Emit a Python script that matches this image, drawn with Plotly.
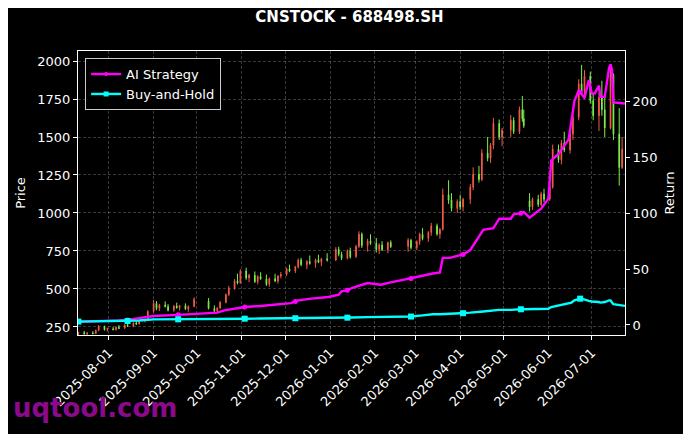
import plotly.graph_objects as go

# Daily candles (approximate), price axis on the left.
candle_dates = [
    "2025-07-11", "2025-07-15", "2025-07-17", "2025-07-21", "2025-07-23", "2025-07-25",
    "2025-07-29", "2025-07-31", "2025-08-04", "2025-08-06", "2025-08-08", "2025-08-12",
    "2025-08-14", "2025-08-18", "2025-08-20", "2025-08-22", "2025-08-26", "2025-08-28",
    "2025-09-01", "2025-09-03", "2025-09-05", "2025-09-09", "2025-09-11", "2025-09-15",
    "2025-09-17", "2025-09-19", "2025-09-23", "2025-09-25", "2025-09-29",
    "2025-10-09", "2025-10-13", "2025-10-15", "2025-10-17", "2025-10-21", "2025-10-23",
    "2025-10-27", "2025-10-29", "2025-10-31", "2025-11-04", "2025-11-06", "2025-11-10",
    "2025-11-12", "2025-11-14", "2025-11-18", "2025-11-20", "2025-11-24", "2025-11-26",
    "2025-11-28", "2025-12-02", "2025-12-04", "2025-12-08", "2025-12-10", "2025-12-12",
    "2025-12-16", "2025-12-18", "2025-12-22", "2025-12-24", "2025-12-26", "2025-12-30",
    "2026-01-05", "2026-01-07", "2026-01-09", "2026-01-13", "2026-01-15", "2026-01-19",
    "2026-01-21", "2026-01-23", "2026-01-27", "2026-01-29", "2026-02-02", "2026-02-04",
    "2026-02-06", "2026-02-10", "2026-02-12",
    "2026-02-24", "2026-02-26", "2026-03-02", "2026-03-04", "2026-03-06", "2026-03-10",
    "2026-03-12", "2026-03-16", "2026-03-18", "2026-03-20", "2026-03-24", "2026-03-26",
    "2026-03-30", "2026-04-01", "2026-04-03", "2026-04-08", "2026-04-10", "2026-04-14",
    "2026-04-16", "2026-04-20", "2026-04-22", "2026-04-24", "2026-04-28", "2026-04-30",
    "2026-05-06", "2026-05-08", "2026-05-12", "2026-05-14", "2026-05-15",
    "2026-05-19", "2026-05-21", "2026-05-25", "2026-05-27", "2026-05-29", "2026-06-02",
    "2026-06-04", "2026-06-08", "2026-06-10", "2026-06-12", "2026-06-16", "2026-06-18",
    "2026-06-22", "2026-06-24", "2026-06-26", "2026-06-30", "2026-07-02", "2026-07-06",
    "2026-07-08", "2026-07-10", "2026-07-14", "2026-07-16", "2026-07-20", "2026-07-22",
]
opens = [
    205, 212, 204, 210, 206, 228, 250, 232, 238, 232, 248, 242,
    262, 255, 276, 270, 290, 300,
    352, 405, 372, 395, 384, 360, 388, 376, 390, 368, 385,
    420, 372, 356, 374, 412, 462, 505, 552, 540, 618, 572, 590,
    548, 582, 566, 530, 568, 552, 585, 596, 632, 618, 645, 690,
    660, 680, 668, 692, 675, 698,
    690, 760, 728, 702, 750, 712, 780, 860, 785, 815, 800, 760,
    790, 758, 805,
    780, 820, 772, 810, 860, 832, 872, 915, 862, 892, 1120, 1085,
    1030, 1075, 1040, 1090, 1170, 1255, 1220, 1395, 1360, 1445, 1590, 1500,
    1545, 1610, 1535, 1680, 1620,
    1080, 1040, 1090, 1055, 1125, 1090,
    1170, 1420, 1350, 1460, 1415, 1520, 1630, 1850, 1800, 1900, 1740, 1640,
    1760, 1680, 1560, 1910, 1520, 1300,
]
highs = [
    218, 225, 215, 222, 232, 262, 258, 245, 250, 252, 262, 268,
    285, 280, 292, 296, 305, 360,
    428, 420, 402, 418, 400, 392, 410, 395, 405, 392, 445,
    440, 392, 380, 420, 470, 520, 565, 600, 630, 640, 600, 615,
    590, 610, 595, 575, 600, 590, 612, 640, 660, 652, 700, 705,
    690, 720, 700, 725, 705, 735,
    775, 778, 745, 760, 772, 790, 880, 872, 830, 860, 835, 800,
    815, 812, 820,
    835, 830, 820, 870, 900, 880, 935, 930, 900, 1160, 1215, 1130,
    1090, 1120, 1100, 1190, 1300, 1310, 1420, 1500, 1460, 1625, 1615, 1560,
    1645, 1630, 1700, 1770, 1680,
    1130, 1100, 1120, 1140, 1160, 1195,
    1450, 1450, 1480, 1535, 1540, 1650, 1880, 1975, 1940, 1930, 1790, 1790,
    1870, 1790, 1960, 1920, 1690, 1500,
]
lows = [
    196, 200, 195, 202, 203, 222, 226, 220, 228, 226, 236, 238,
    250, 248, 262, 266, 280, 296,
    345, 360, 355, 378, 352, 350, 370, 358, 362, 350, 380,
    365, 345, 348, 370, 405, 455, 495, 530, 535, 560, 545, 540,
    530, 560, 520, 515, 545, 535, 570, 585, 610, 605, 635, 650,
    630, 660, 640, 670, 650, 680,
    685, 715, 690, 695, 700, 705, 770, 770, 745, 790, 740, 730,
    750, 735, 770,
    745, 760, 755, 790, 820, 810, 850, 850, 830, 885, 1060, 1010,
    1000, 1020, 1010, 1060, 1150, 1200, 1210, 1340, 1330, 1420, 1480, 1440,
    1500, 1520, 1520, 1600, 1560,
    1010, 1020, 1040, 1045, 1070, 1080,
    1160, 1330, 1320, 1400, 1390, 1480, 1610, 1780, 1750, 1720, 1610, 1540,
    1640, 1500, 1550, 1480, 1180, 1290,
]
closes = [
    212, 204, 210, 206, 228, 255, 232, 240, 232, 248, 240, 262,
    255, 276, 270, 290, 300, 352,
    405, 372, 395, 384, 360, 388, 376, 390, 368, 385, 432,
    372, 356, 374, 412, 462, 505, 552, 540, 618, 572, 590, 548,
    582, 566, 530, 568, 552, 585, 596, 632, 618, 645, 690, 660,
    680, 668, 692, 675, 698, 690,
    760, 728, 702, 750, 712, 780, 860, 785, 815, 800, 760, 790,
    758, 805, 778,
    820, 772, 810, 860, 832, 872, 915, 862, 892, 1120, 1085, 1030,
    1075, 1040, 1090, 1170, 1255, 1220, 1395, 1360, 1445, 1590, 1500, 1545,
    1610, 1535, 1680, 1620, 1575,
    1040, 1090, 1055, 1125, 1090, 1170,
    1420, 1350, 1460, 1415, 1520, 1630, 1850, 1800, 1900, 1740, 1640, 1760,
    1680, 1560, 1910, 1520, 1300, 1420,
]

# Cumulative return curves, return axis on the right.
ret_dates = [
    "2025-07-11", "2025-07-25", "2025-08-08", "2025-08-14", "2025-08-22", "2025-09-01",
    "2025-09-18", "2025-09-30", "2025-10-10", "2025-10-15", "2025-10-20", "2025-10-27",
    "2025-11-03", "2025-11-14", "2025-11-28", "2025-12-05", "2025-12-08", "2025-12-10",
    "2025-12-19", "2025-12-31", "2026-01-07", "2026-01-09", "2026-01-13", "2026-01-16",
    "2026-01-27", "2026-02-05", "2026-02-12", "2026-02-24", "2026-02-26", "2026-03-06",
    "2026-03-13", "2026-03-18", "2026-03-20", "2026-03-25", "2026-04-01", "2026-04-03",
    "2026-04-08", "2026-04-17", "2026-04-24", "2026-04-28", "2026-05-06", "2026-05-08",
    "2026-05-13", "2026-05-15", "2026-05-19", "2026-05-27", "2026-06-01", "2026-06-03",
    "2026-06-08", "2026-06-12", "2026-06-15", "2026-06-17", "2026-06-19", "2026-06-22",
    "2026-06-23", "2026-06-25", "2026-06-26", "2026-06-29", "2026-07-01", "2026-07-03",
    "2026-07-06", "2026-07-07", "2026-07-10", "2026-07-13", "2026-07-14", "2026-07-15",
    "2026-07-16", "2026-07-24",
]
ai_returns = [
    3, 3.3, 4, 4.5, 6, 8,
    9, 10, 10.5, 11, 13, 14.5,
    16, 17, 18.5, 19.5, 21, 22,
    23.5, 25, 27, 30, 31, 33,
    37.5, 36, 38, 41, 41.5, 44,
    46, 47, 60, 60, 62.5, 63,
    67, 85, 86.5, 95, 95, 99,
    100, 101, 96, 104, 113, 147,
    153, 160, 166, 183, 200, 210,
    208, 204, 203, 219, 207, 207,
    214, 204, 204, 230, 233, 228,
    199, 198,
]
bh_returns = [
    3, 3.2, 3.4, 3.5, 4, 5,
    5, 5.2, 5.3, 5.5, 5.5, 5.5,
    5.6, 5.7, 5.8, 6, 6, 6,
    6.2, 6.5, 6.5, 6.5, 6.5, 6.6,
    7, 7, 7.2, 7.4, 7.5, 8.5,
    9.5, 9.5, 9.8, 10, 10.5, 10.5,
    11, 12, 13, 13.5, 13.5, 13.8,
    14, 14, 14, 14, 14.5, 16,
    17.5, 18.5, 19, 20, 22, 23.5,
    23.5, 23, 22.5, 21.5, 21, 21,
    20.5, 20, 20.5, 22, 22, 20,
    18.5, 17,
]
marker_dates = [
    "2025-07-11", "2025-08-14", "2025-09-18", "2025-11-03", "2025-12-08",
    "2026-01-13", "2026-02-26", "2026-04-03", "2026-05-13", "2026-06-23",
]
month_ticks = [
    "2025-08-01", "2025-09-01", "2025-10-01", "2025-11-01", "2025-12-01", "2026-01-01",
    "2026-02-01", "2026-03-01", "2026-04-01", "2026-05-01", "2026-06-01", "2026-07-01",
]

up_color = "#f55a48"
down_color = "#7cf04a"
ai_color = "#ff00ff"
bh_color = "#00ffff"
font = "DejaVu Sans"

# Markers only on every ~24th trading day, like markevery.
ai_marker_y = [v for d, v in zip(ret_dates, ai_returns) if d in marker_dates]
bh_marker_y = [v for d, v in zip(ret_dates, bh_returns) if d in marker_dates]

fig = go.Figure()

fig.add_trace(go.Candlestick(
    x=candle_dates, open=opens, high=highs, low=lows, close=closes,
    increasing=dict(line=dict(color=up_color, width=1), fillcolor=up_color),
    decreasing=dict(line=dict(color=down_color, width=1), fillcolor=down_color),
    whiskerwidth=0, showlegend=False, hoverinfo="skip",
))

for name, ys, mys, color, symbol, size in [
    ("AI Strategy", ai_returns, ai_marker_y, ai_color, "circle", 5),
    ("Buy-and-Hold", bh_returns, bh_marker_y, bh_color, "square", 6),
]:
    fig.add_trace(go.Scatter(
        x=ret_dates, y=ys, name=name, yaxis="y2", mode="lines",
        line=dict(color=color, width=2.4), showlegend=False,
    ))
    fig.add_trace(go.Scatter(
        x=marker_dates, y=mys, name=name, yaxis="y2", mode="markers",
        marker=dict(symbol=symbol, size=size, color=color), showlegend=False,
    ))
    # legend entry: line with a small marker
    fig.add_trace(go.Scatter(
        x=[None], y=[None], name=name, yaxis="y2", mode="lines+markers",
        line=dict(color=color, width=2.4),
        marker=dict(symbol=symbol, size=size - 1, color=color),
    ))

grid = "rgba(255,255,255,0.22)"

# The page body has an 8px margin, so the figure is sized to fit the window.
fig.update_layout(
    width=683, height=426,
    margin=dict(l=67, r=66, t=43, b=99),
    paper_bgcolor="black", plot_bgcolor="black",
    font=dict(family=font, size=13, color="white"),
    title=dict(text="<b>CNSTOCK - 688498.SH</b>", x=0.5, xanchor="center",
               y=0.979, yanchor="middle", font=dict(size=15, color="white")),
    xaxis=dict(
        type="date", range=["2025-07-10 17:00", "2026-07-24"],
        rangeslider=dict(visible=False),
        tickvals=month_ticks, tickformat="%Y-%m-%d", tickangle=-45,
        ticks="outside", ticklen=4, tickcolor="white",
        showline=True, linecolor="white", linewidth=1.2, mirror=True,
        showgrid=True, gridcolor=grid, griddash="3px,2px", gridwidth=0.6,
        zeroline=False,
    ),
    yaxis=dict(
        title=dict(text="Price", font=dict(size=13), standoff=8),
        range=[197, 2066], tickvals=[250, 500, 750, 1000, 1250, 1500, 1750, 2000],
        ticks="outside", ticklen=4, tickcolor="white",
        showline=True, linecolor="white", linewidth=1.2, mirror=True,
        showgrid=True, gridcolor=grid, griddash="3px,2px", gridwidth=0.6,
        zeroline=False,
    ),
    yaxis2=dict(
        title=dict(text="Return", font=dict(size=13), standoff=8),
        overlaying="y", side="right", range=[-9, 245],
        tickvals=[0, 50, 100, 150, 200],
        ticks="outside", ticklen=4, tickcolor="white",
        showgrid=False, zeroline=False,
    ),
    legend=dict(
        x=0.013, y=0.975, xanchor="left", yanchor="top",
        bgcolor="black", bordercolor="#cccccc", borderwidth=1,
        font=dict(size=13, color="white"), tracegroupgap=2,
    ),
    showlegend=True,
)

# Watermark
fig.add_annotation(
    text="<b>uqtool.com</b>", xref="paper", yref="paper",
    x=-0.122, y=-0.257, xanchor="left", yanchor="middle", showarrow=False,
    font=dict(family=font, size=26, color="#8b0a8b"),
)

fig.write_html("out.html")
